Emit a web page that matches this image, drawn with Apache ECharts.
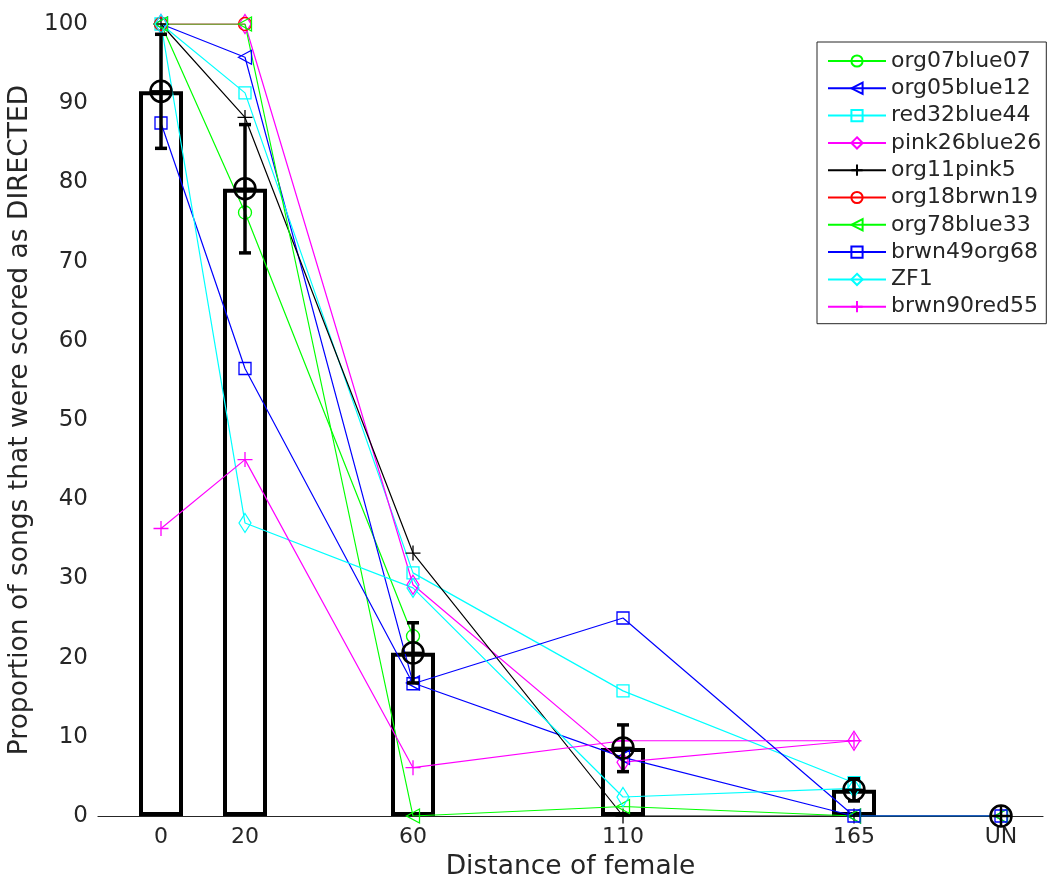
<!DOCTYPE html>
<html><head><meta charset="utf-8">
<script src="https://cdn.jsdelivr.net/npm/echarts@6/dist/echarts.min.js"></script>
<style>html,body{margin:0;padding:0;background:#fff}#c{width:1052px;height:881px}</style>
</head><body><div id="c"></div>
<script>
// x positions of the distance categories (UN placed at 200)
const distances = [0, 20, 60, 110, 165, 200];
const tickLabels = ['0', '20', '60', '110', '165', 'UN'];
const yTicks = [0, 10, 20, 30, 40, 50, 60, 70, 80, 90, 100];

// mean and error bars
const meanValues = [91.5, 79.2, 20.6, 8.6, 3.3, 0];
const errLow = [84.3, 71.1, 16.8, 5.6, 1.9, null];
const errHigh = [98.7, 87.3, 24.4, 11.5, 4.7, null];

// individual birds
const seriesNames = ['org07blue07','org05blue12','red32blue44','pink26blue26','org11pink5','org18brwn19','org78blue33','brwn49org68','ZF1','brwn90red55'];
const org07blue07 = [100, 76.2, 22.7, null, null, null];
const org05blue12 = [100, 95.8, 16.8, 7.4, 0, 0];
const red32blue44 = [100, 91.3, 30.7, 15.8, 4.2, null];
const pink26blue26 = [100, 100, 29.2, 6.8, 9.5, null];
const org11pink5 = [100, 88.2, 33.2, 0, 0, null];
const org18brwn19 = [100, 100, null, null, null, null];
const org78blue33 = [100, 100, 0, 1.2, 0, 0];
const brwn49org68 = [87.5, 56.5, 16.7, 25, 0, 0];
const ZF1 = [100, 37, 28.8, 2.4, 3.5, null];
const brwn90red55 = [36.3, 45, 6.1, 9.5, 9.5, null];

const seriesValues = [org07blue07, org05blue12, red32blue44, pink26blue26, org11pink5, org18brwn19, org78blue33, brwn49org68, ZF1, brwn90red55];
const seriesColors = ['#00ff00','#0000ff','#00ffff','#ff00ff','#000000','#ff0000','#00ff00','#0000ff','#00ffff','#ff00ff'];
const seriesMarkers = ['circle','ltri','rect','diamond','plus','circle','ltri','rect','diamond','plus'];

const FONT = 'DejaVu Sans';
const TXT = '#262626';
const markerDefs = {
  circle: {symbol: 'circle', size: 13},
  ltri: {symbol: 'path://M0,5L10,0L10,10Z', size: [13, 14]},
  rect: {symbol: 'rect', size: 12},
  diamond: {symbol: 'diamond', size: [12, 19]},
  plus: {symbol: 'path://M5,0L5,10M0,5L10,5', size: 15}
};

const lineSeries = seriesNames.map((name, i) => {
  const m = markerDefs[seriesMarkers[i]];
  return {
    name: name,
    type: 'line',
    z: 3,
    data: distances.map((d, j) => seriesValues[i][j] == null ? null : [d, seriesValues[i][j]]).filter(p => p),
    symbol: m.symbol,
    symbolSize: m.size,
    symbolKeepAspect: false,
    showAllSymbol: true,
    lineStyle: {color: seriesColors[i], width: 1.2},
    itemStyle: {color: 'rgba(0,0,0,0)', borderColor: seriesColors[i], borderWidth: 1.3},
    emphasis: {disabled: true},
    animation: false
  };
});

const barData = distances.map((d, i) => [d, meanValues[i]]).filter(p => p[1] > 0);
const errData = distances.map((d, i) => [d, errLow[i], errHigh[i]]).filter(p => p[1] != null);
const meanData = distances.map((d, i) => [d, meanValues[i]]);

const option = {
  backgroundColor: '#fff',
  animation: false,
  grid: {left: 98, right: 9, top: 24, bottom: 65, containLabel: false, outerBoundsMode: 'none'},
  xAxis: {
    type: 'value', min: -15, max: 210,
    name: 'Distance of female', nameLocation: 'middle', nameGap: 38,
    nameTextStyle: {fontFamily: FONT, fontSize: 26.5, color: TXT},
    axisLine: {show: true, onZero: false, lineStyle: {color: TXT, width: 1.2}},
    axisTick: {show: true, inside: true, length: 8, customValues: distances, lineStyle: {color: TXT}},
    axisLabel: {customValues: distances, margin: 10, fontFamily: FONT, fontSize: 22, color: TXT,
      formatter: v => { const k = distances.indexOf(v); return k >= 0 ? tickLabels[k] : ''; }},
    splitLine: {show: false}
  },
  yAxis: {
    type: 'value', min: 0, max: 100, interval: 10,
    name: 'Proportion of songs that were scored as DIRECTED', nameLocation: 'middle', nameGap: 57,
    nameTextStyle: {fontFamily: FONT, fontSize: 26.5, color: TXT},
    axisLine: {show: true, lineStyle: {color: TXT, width: 1.2}},
    axisTick: {show: true, inside: true, length: 8, lineStyle: {color: TXT}},
    axisLabel: {margin: 10, fontFamily: FONT, fontSize: 23, color: TXT,
      formatter: v => yTicks.indexOf(v) >= 0 ? String(v) : ''},
    splitLine: {show: false}
  },
  legend: {
    data: seriesNames,
    orient: 'vertical',
    left: 817, top: 42,
    padding: [8, 5, 6, 10],
    itemWidth: 58, itemHeight: 14, itemGap: 5.3,
    backgroundColor: '#fff', borderColor: TXT, borderWidth: 1, borderRadius: 0,
    textStyle: {fontFamily: FONT, fontSize: 22, color: TXT, lineHeight: 20},
    selectedMode: false
  },
  series: [
    {
      type: 'bar', z: 1, data: barData, barWidth: 44,
      itemStyle: {color: '#fff', borderColor: '#000', borderWidth: 4},
      emphasis: {disabled: true}, silent: true
    },
    ...lineSeries,
    {
      type: 'custom', z: 5, silent: true, data: errData,
      renderItem: (params, api) => {
        const x = api.value(0);
        const lo = api.coord([x, api.value(1)]);
        const hi = api.coord([x, api.value(2)]);
        const cw = 6;
        const st = {stroke: '#000', lineWidth: 3.5};
        return {type: 'group', children: [
          {type: 'line', shape: {x1: lo[0], y1: lo[1], x2: hi[0], y2: hi[1]}, style: st},
          {type: 'line', shape: {x1: lo[0]-cw, y1: lo[1], x2: lo[0]+cw, y2: lo[1]}, style: st},
          {type: 'line', shape: {x1: hi[0]-cw, y1: hi[1], x2: hi[0]+cw, y2: hi[1]}, style: st}
        ]};
      }
    },
    {
      type: 'custom', z: 6, silent: true, data: meanData,
      renderItem: (params, api) => {
        const p = api.coord([api.value(0), api.value(1)]);
        const r = 10.5;
        const st = {stroke: '#000', lineWidth: 2.5, fill: null};
        return {type: 'group', children: [
          {type: 'circle', shape: {cx: p[0], cy: p[1], r: r}, style: st},
          {type: 'line', shape: {x1: p[0]-r, y1: p[1], x2: p[0]+r, y2: p[1]}, style: st},
          {type: 'line', shape: {x1: p[0], y1: p[1]-r, x2: p[0], y2: p[1]+r}, style: st}
        ]};
      }
    }
  ]
};
const chart = echarts.init(document.getElementById('c'), null, {renderer: 'canvas'});
chart.setOption(option);
</script>
</body></html>
